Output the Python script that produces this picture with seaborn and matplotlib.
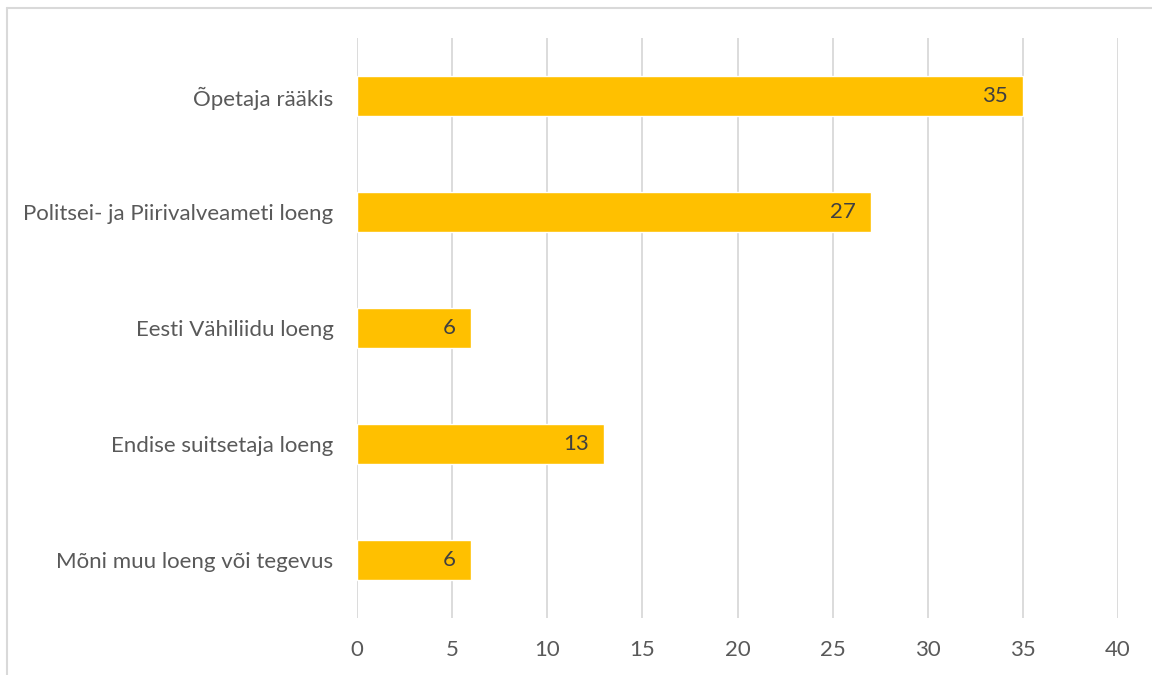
import matplotlib
matplotlib.use("Agg")
import matplotlib.pyplot as plt
from matplotlib.lines import Line2D
import seaborn as sns
import pandas as pd

categories = ["Õpetaja rääkis", "Politsei- ja Piirivalveameti loeng", "Eesti Vähiliidu loeng",
              "Endise suitsetaja loeng", "Mõni muu loeng või tegevus"]
values = [35, 27, 6, 13, 6]
xticks = [0, 5, 10, 15, 20, 25, 30, 35, 40]

sns.set_theme(style="white")
plt.rcParams['font.family'] = ['Lato', 'DejaVu Sans']

df = pd.DataFrame({"cat": categories, "val": values})

W, H = 1152, 675
fig = plt.figure(figsize=(W / 100, H / 100), dpi=100)
ax = fig.add_axes([357 / W, 1 - 618 / H, (1118 - 357) / W, (618 - 38) / H])

sns.barplot(data=df, x="val", y="cat", orient="h", color="#FFC000", saturation=1,
            width=0.345, ax=ax, zorder=3)

ax.set_xlim(0, 40)
ax.set_ylim(4.5, -0.5)
ax.set_xticks(xticks)
ax.set_xticklabels([str(t) for t in xticks])
ax.xaxis.grid(True, color="#D9D9D9", linewidth=1.3, zorder=0)
ax.yaxis.grid(False)
ax.set_axisbelow(True)
for s in ax.spines.values():
    s.set_visible(False)
ax.tick_params(axis="x", length=0, pad=16, labelsize=16, labelcolor="#595959")
ax.tick_params(axis="y", length=0, pad=17, labelsize=16, labelcolor="#595959")
ax.set_xlabel("")
ax.set_ylabel("")

for i, v in enumerate(values):
    ax.annotate(str(v), xy=(v, i), xytext=(-11, 0), textcoords="offset points",
                ha="right", va="center", fontsize=16, color="#404040", zorder=4)

# outer chart border (partially cropped)
fig.add_artist(Line2D([7 / W, 1.0], [1 - 8 / H, 1 - 8 / H], transform=fig.transFigure,
                      color="#D9D9D9", linewidth=1.5))
fig.add_artist(Line2D([7 / W, 7 / W], [0.0, 1 - 8 / H], transform=fig.transFigure,
                      color="#D9D9D9", linewidth=1.5))

fig.savefig("out.png", dpi=100, facecolor="white")
